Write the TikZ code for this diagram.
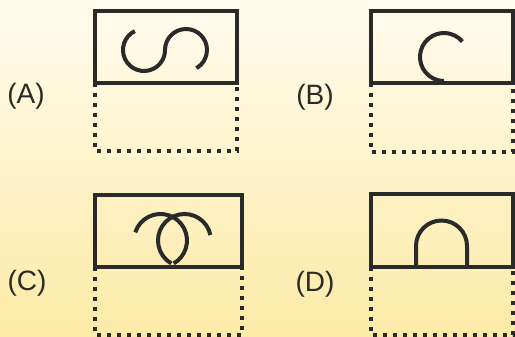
\documentclass[tikz,border=0pt]{standalone}
\usepackage{fontspec}
\setmainfont{Liberation Sans}
\definecolor{ink}{HTML}{2A2A2A}
\definecolor{bgtop}{HTML}{FFFCEE}
\definecolor{bgbot}{HTML}{FCEAA6}
\begin{document}
\begin{tikzpicture}[x=1pt,y=1pt,
		solidbox/.style={draw=ink,line width=4pt},
		dotbox/.style={draw=ink,line width=4pt,dash pattern=on 4pt off 6pt},
		wire/.style={draw=ink,line width=4pt},
		choice/.style={text=ink,font=\fontsize{28}{34}\selectfont,inner sep=0pt}]
			% Draw background
			\fill[top color=bgtop,bottom color=bgbot] (0,0) rectangle (515,337);
			\useasboundingbox (0,0) rectangle (515,337);

			% Draw panel A
			\draw[solidbox] (95,254) rectangle (237,326);
			\draw[dotbox] (95,254) -- (95,186) -- (237,186) -- (237,254);
			\draw[wire] (144,287) ++(116:21) arc (116:360:21) arc (180:-60:21);

			% Draw panel B
			\draw[solidbox] (371,254) rectangle (513,326);
			\draw[dotbox] (371,254) -- (371,185) -- (513,185) -- (513,254);
			\draw[wire] (444,280) ++(40:24) arc (40:270:24);

			% Draw panel C
			\draw[solidbox] (95,70) rectangle (242,142);
			\draw[dotbox] (95,70) -- (95,2) -- (242,2) -- (242,70);
			\draw[wire] (160.5,96.5) ++(162:26.5) arc (162:-60:26.5);
			\draw[wire] (184.5,96.5) ++(12:26.5) arc (12:240:26.5);

			% Draw panel D
			\draw[solidbox] (371,70) rectangle (513,143);
			\draw[dotbox] (371,70) -- (371,2) -- (513,2) -- (513,70);
			\draw[wire] (416,70) -- (416,91) arc (180:0:25.5) -- (467,70);

			% Label panels
			\node[choice] (optA) at (26,241) {(A)};
			\node[choice] (optB) at (315,240) {(B)};
			\node[choice] (optC) at (27,54) {(C)};
			\node[choice] (optD) at (315,53) {(D)};
		\end{tikzpicture}
\end{document}
